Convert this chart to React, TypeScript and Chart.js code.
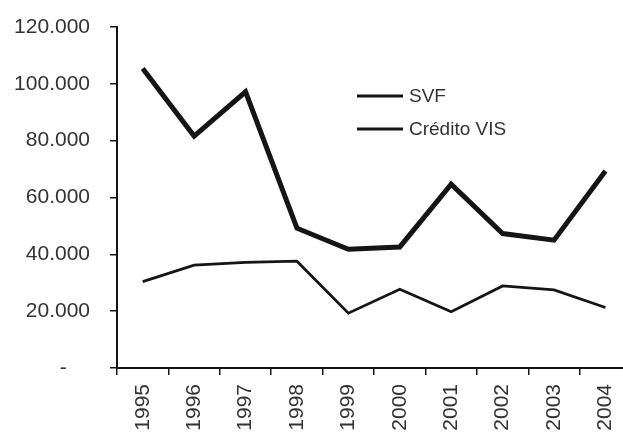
import React, { useEffect, useRef } from "react";
import { Chart, registerables } from "chart.js";

Chart.register(...registerables);

const categories = ["1995", "1996", "1997", "1998", "1999", "2000", "2001", "2002", "2003", "2004"];
const svfValues = [105400, 81600, 97200, 49200, 41800, 42600, 64700, 47300, 45000, 69300];
const creditoValues = [30400, 36200, 37200, 37600, 19300, 27700, 19800, 28900, 27500, 21300];
const seriesNames = ["SVF", "Crédito VIS"];
const yTicks = [0, 20000, 40000, 60000, 80000, 100000, 120000];

const FONT = "'Liberation Sans', Arial, Helvetica, sans-serif";
const INK = "#151515";

const fmt = (v: number) => {
  if (v === 0) return "-    ";
  const s = Math.round(v).toString();
  return s.replace(/\B(?=(\d{3})+(?!\d))/g, ".");
};

const legendPlugin = {
  id: "inlineLegend",
  afterDraw(chart: any) {
    const ctx = chart.ctx;
    const rows = [96, 129];
    ctx.save();
    chart.data.datasets.forEach((ds: any, i: number) => {
      const y = rows[i];
      ctx.strokeStyle = INK;
      ctx.lineWidth = 3;
      ctx.beginPath();
      ctx.moveTo(357, y);
      ctx.lineTo(403, y);
      ctx.stroke();
      ctx.fillStyle = "#333";
      ctx.font = `19px ${FONT}`;
      ctx.textBaseline = "middle";
      ctx.textAlign = "left";
      ctx.fillText(ds.label, 409, y + 1);
    });
    ctx.restore();
  },
};

export default function App() {
  const ref = useRef<HTMLCanvasElement | null>(null);
  useEffect(() => {
    if (!ref.current) return;
    const chart = new Chart(ref.current, {
      type: "line",
      data: {
        labels: categories,
        datasets: [
          {
            label: seriesNames[0],
            data: svfValues,
            borderColor: INK,
            borderWidth: 5,
            pointRadius: 0,
            tension: 0,
            borderJoinStyle: "miter",
          },
          {
            label: seriesNames[1],
            data: creditoValues,
            borderColor: INK,
            borderWidth: 2.8,
            pointRadius: 0,
            tension: 0,
            borderJoinStyle: "miter",
          },
        ],
      },
      options: {
        animation: false,
        responsive: true,
        maintainAspectRatio: false,
        devicePixelRatio: 1,
        layout: { padding: { left: 14, top: 27, right: 7, bottom: 0 } },
        plugins: { legend: { display: false }, tooltip: { enabled: false } },
        scales: {
          x: {
            type: "category",
            offset: true,
            afterFit: (axis: any) => {
              axis.height = 67;
            },
            grid: {
              offset: true,
              drawOnChartArea: false,
              drawTicks: true,
              tickLength: 7,
              color: INK,
              lineWidth: 1.5,
            },
            border: { display: true, color: INK, width: 2 },
            ticks: {
              color: "#333",
              font: { family: FONT, size: 21 },
              minRotation: 90,
              maxRotation: 90,
              padding: 9,
              autoSkip: false,
            },
          },
          y: {
            min: 0,
            max: 120000,
            afterBuildTicks: (axis: any) => {
              axis.ticks = yTicks.map((v) => ({ value: v }));
            },
            afterFit: (axis: any) => {
              axis.width = 103;
              axis.paddingTop = 12;
              axis.paddingBottom = 12;
            },
            grid: {
              drawOnChartArea: false,
              drawTicks: true,
              tickLength: 7,
              color: INK,
              lineWidth: 1.5,
            },
            border: { display: true, color: INK, width: 2 },
            ticks: {
              color: "#333",
              font: { family: FONT, size: 21 },
              padding: 20,
              callback: (v: any) => fmt(Number(v)),
            },
          },
        },
      },
      plugins: [legendPlugin],
    });
    return () => chart.destroy();
  }, []);

  return (
    <div style={{ position: "absolute", left: 0, top: 0, width: 623, height: 435, overflow: "hidden", background: "#fff" }}>
      <div style={{ position: "relative", width: 640, height: 435 }}>
        <canvas ref={ref} />
      </div>
    </div>
  );
}
